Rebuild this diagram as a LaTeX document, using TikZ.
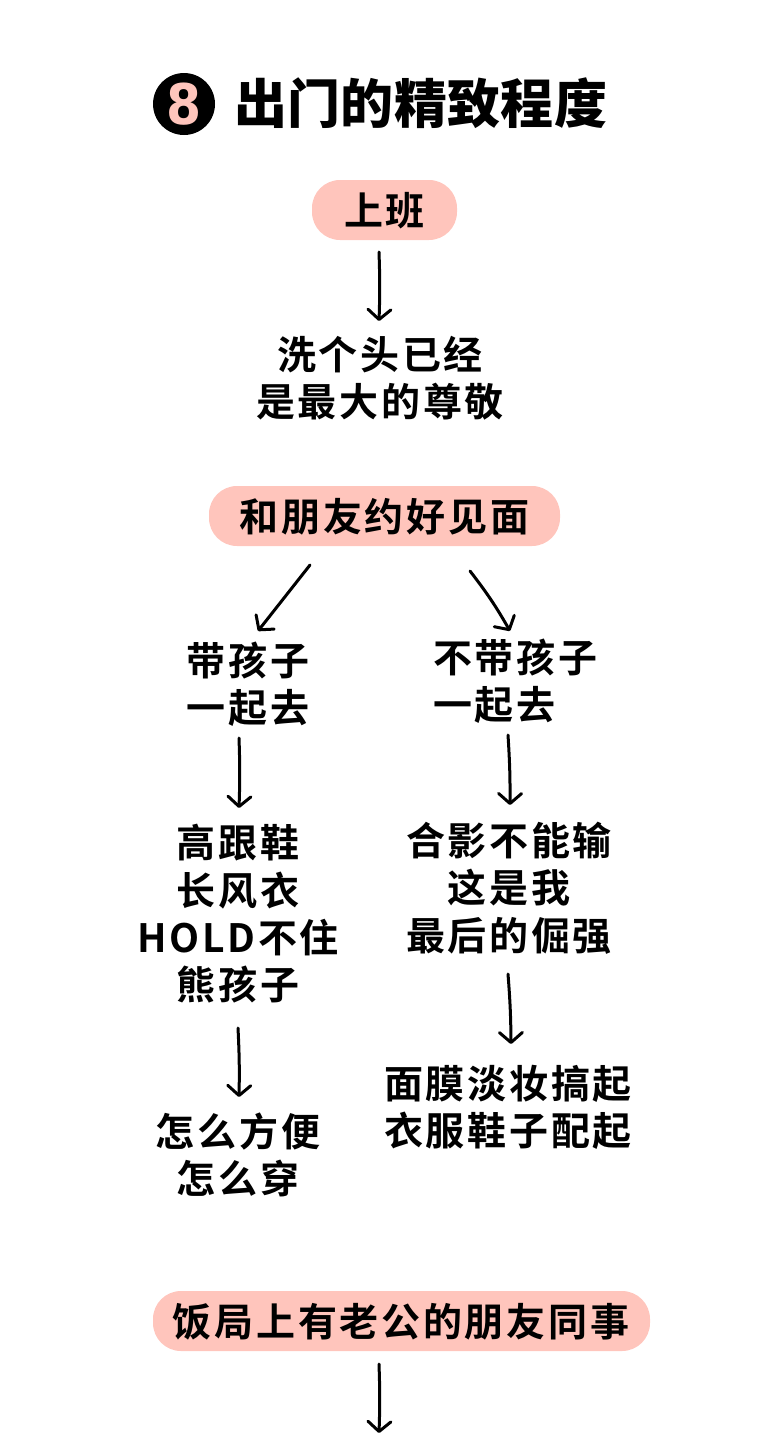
\documentclass[tikz,border=0pt]{standalone}
\usepackage{fontspec}
\setmainfont{Noto Sans CJK SC Bold}[LetterSpace=7]
\newfontfamily\heavy{Noto Sans CJK SC Black}[LetterSpace=0.6]
\newfontfamily\badgefont{DejaVu Sans Bold}
\definecolor{pill}{HTML}{FFC5BC}
\usetikzlibrary{arrows.meta}
\tikzset{
  x=1pt,y=-1pt,
  pillbox/.style={fill=pill,rounded corners=28pt,minimum height=60pt,inner sep=0pt},
  lbl/.style={font=\fontsize{39}{47.3}\selectfont,align=center,inner sep=0pt,text=black},
  conn/.style={line width=3pt,line cap=round,-{Straight Barb[length=10pt,width=23pt,line width=3pt,round]}}
}
\begin{document}
\begin{tikzpicture}
\useasboundingbox (0,0) rectangle (780,1435);
% heading
\node[circle,fill=black,minimum size=62pt,inner sep=0pt] (badge) at (184,104) {};
\node[font=\badgefont\fontsize{56}{56}\selectfont,text=pill,inner sep=0pt,xscale=0.9] (eight) at (184,104) {8};
\node[font=\heavy\fontsize{53}{53}\selectfont,anchor=west,inner sep=0pt] (title) at (234,103) {出门的精致程度};
% commute branch
\node[pillbox,minimum width=145pt] (work) at (384.5,210) {};
\node[lbl] (worktxt) at (384.5,211) {上班};
\coordinate (workout) at (379,252);
\coordinate (workin) at (379,321);
\draw[conn] (workout) to[bend left=2] (workin);
\node[lbl] (wash) at (380,378) {洗个头已经\\是最大的尊敬};
% meeting friends branch
\node[pillbox,minimum width=351pt] (friends) at (384.5,516) {};
\node[lbl] (friendstxt) at (384.5,517) {和朋友约好见面};
\coordinate (friendsl) at (310,565);
\coordinate (friendsr) at (470,571);
\node[lbl] (withkid) at (248,684) {带孩子\\一起去};
\node[lbl,align=left,anchor=west] (nokid) at (433,681) {不带孩子\\一起去};
\coordinate (within) at (258,631);
\coordinate (noin) at (510,631);
\draw[conn] (friendsl) -- (within);
\draw[conn] (friendsr) to[bend left=4] (noin);
\coordinate (without) at (239,738);
\coordinate (withdown) at (239,808);
\draw[conn] (without) to[bend left=2] (withdown);
\coordinate (noout) at (508,735);
\coordinate (nodown) at (510,805);
\draw[conn] (noout) to[bend left=2] (nodown);
\node[lbl] (heels) at (238,914) {高跟鞋\\长风衣\\HOLD不住\\熊孩子};
\node[lbl] (photo) at (509,888) {合影不能输\\这是我\\最后的倔强};
\coordinate (heelsout) at (238,1028);
\coordinate (heelsin) at (239,1097);
\draw[conn] (heelsout) to[bend left=2] (heelsin);
\coordinate (photoout) at (508,974);
\coordinate (photoin) at (511,1044);
\draw[conn] (photoout) to[bend left=2] (photoin);
\node[lbl] (easy) at (238,1155) {怎么方便\\怎么穿};
\node[lbl] (mask) at (508,1107) {面膜淡妆搞起\\衣服鞋子配起};
% dinner branch
\node[pillbox,minimum width=497pt] (dinner) at (401.5,1321) {};
\node[lbl] (dinnertxt) at (401,1322) {饭局上有老公的朋友同事};
\coordinate (dinnerout) at (379,1364);
\coordinate (dinnerin) at (379,1433);
\draw[conn] (dinnerout) to[bend left=2] (dinnerin);
\end{tikzpicture}
\end{document}
